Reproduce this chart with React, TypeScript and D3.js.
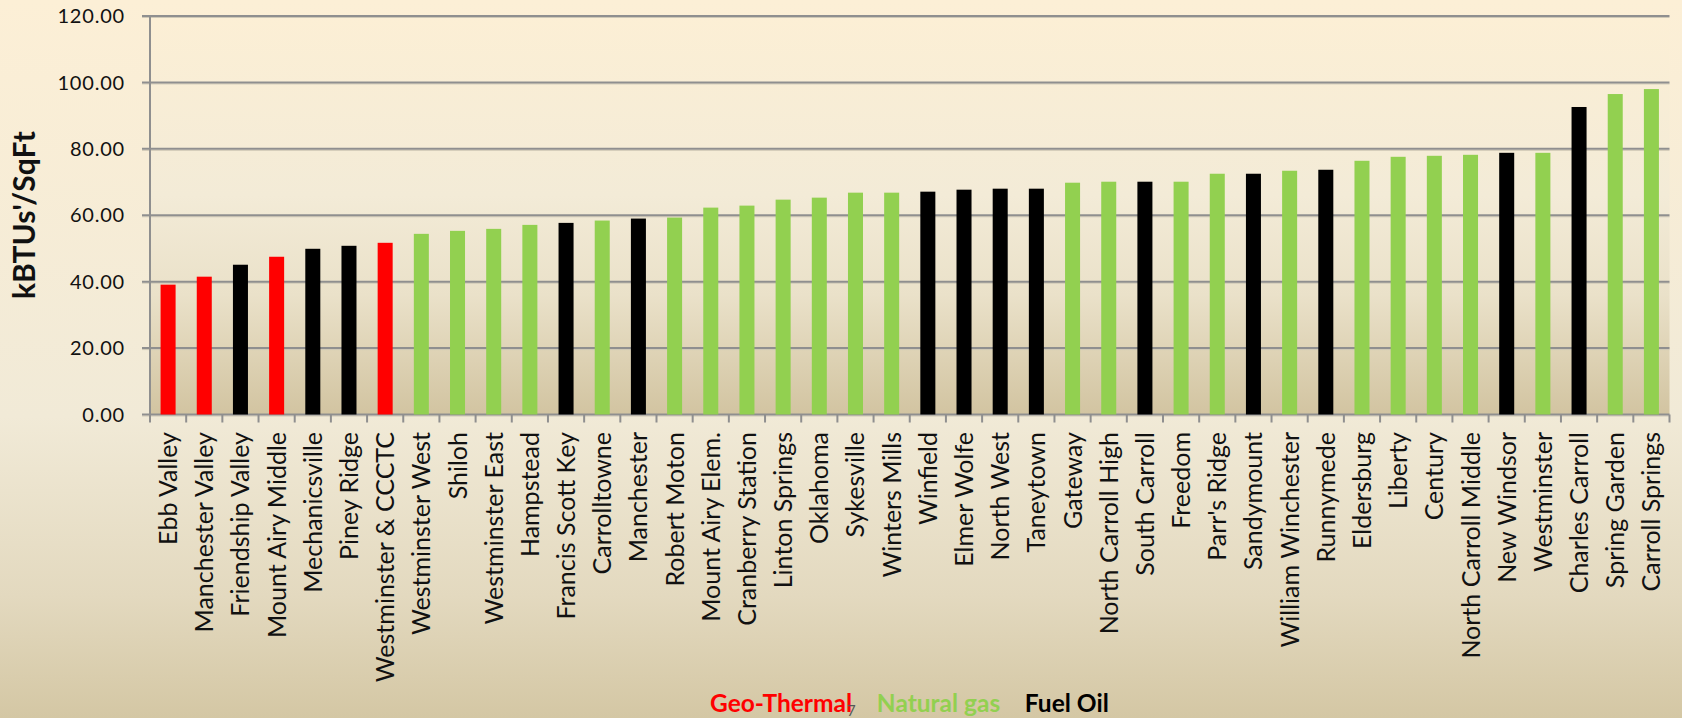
import React from "react";
import * as d3 from "d3";

const schools = [
  "Ebb Valley", "Manchester Valley", "Friendship Valley", "Mount Airy Middle",
  "Mechanicsville", "Piney Ridge", "Westminster & CCCTC", "Westminster West",
  "Shiloh", "Westminster East", "Hampstead", "Francis Scott Key", "Carrolltowne",
  "Manchester", "Robert Moton", "Mount Airy Elem.", "Cranberry Station",
  "Linton Springs", "Oklahoma", "Sykesville", "Winters Mills", "Winfield",
  "Elmer Wolfe", "North West", "Taneytown", "Gateway", "North Carroll High",
  "South Carroll", "Freedom", "Parr's Ridge", "Sandymount", "William Winchester",
  "Runnymede", "Eldersburg", "Liberty", "Century", "North Carroll Middle",
  "New Windsor", "Westminster", "Charles Carroll", "Spring Garden", "Carroll Springs",
];

const kbtuPerSqFt = [
  39.1, 41.5, 45.1, 47.5, 49.9, 50.8, 51.7, 54.4, 55.3, 55.9, 57.1, 57.7, 58.4,
  59.0, 59.3, 62.3, 62.9, 64.7, 65.3, 66.8, 66.8, 67.1, 67.7, 68.0, 68.0, 69.8,
  70.1, 70.1, 70.1, 72.5, 72.5, 73.4, 73.7, 76.4, 77.6, 77.9, 78.2, 78.8, 78.8,
  92.6, 96.5, 98.0,
];

const fuel = [
  "geo", "geo", "oil", "geo", "oil", "oil", "geo", "gas", "gas", "gas", "gas",
  "oil", "gas", "oil", "gas", "gas", "gas", "gas", "gas", "gas", "gas", "oil",
  "oil", "oil", "oil", "gas", "gas", "oil", "gas", "gas", "oil", "gas", "oil",
  "gas", "gas", "gas", "gas", "oil", "gas", "oil", "gas", "gas",
];

const fuelKeys = ["geo", "gas", "oil"];
const fuelNames = ["Geo-Thermal", "Natural gas", "Fuel Oil"];
const fuelColors = ["#FF0000", "#92D050", "#000000"];

const yTicks = [0, 20, 40, 60, 80, 100, 120];

const W = 1682;
const H = 718;
const left = 150;
const right = 1669.5;
const top = 16;
const bottom = 414.5;

export default function App() {
  const x = d3
    .scaleBand<string>()
    .domain(schools)
    .range([left, right])
    .paddingInner(0.585)
    .paddingOuter(0.2925);
  const y = d3.scaleLinear().domain([0, 120]).range([bottom, top]);
  const color = d3.scaleOrdinal<string, string>().domain(fuelKeys).range(fuelColors);
  const step = x.step();
  const font = "Lato, 'Open Sans', sans-serif";

  return (
    <svg
      width={W}
      height={H}
      style={{ position: "absolute", left: 0, top: 0, display: "block" }}
      fontFamily={font}
    >
      <defs>
        <linearGradient id="page" x1="0" y1="0" x2="0" y2="1">
          <stop offset="0" stopColor="#FCEFD6" />
          <stop offset="0.58" stopColor="#F1EAD7" />
          <stop offset="0.83" stopColor="#E3D9BF" />
          <stop offset="1" stopColor="#D4C7A4" />
        </linearGradient>
        <linearGradient id="plot" x1="0" y1="0" x2="0" y2="1">
          <stop offset="0" stopColor="#FCEFD5" />
          <stop offset="0.45" stopColor="#F3EBD7" />
          <stop offset="0.7" stopColor="#EAE1C9" />
          <stop offset="1" stopColor="#D2C4A1" />
        </linearGradient>
      </defs>
      <rect width={W} height={H} fill="url(#page)" />
      <rect x={left} y={top} width={right - left} height={bottom - top} fill="url(#plot)" />

      {/* gridlines + y ticks */}
      {yTicks.map((t) => (
        <g key={t}>
          <line x1={left - 8} x2={right} y1={y(t) + 1.5} y2={y(t) + 1.5} stroke="#CFC8B6" strokeWidth={1} />
          <line x1={left - 8} x2={right} y1={y(t)} y2={y(t)} stroke="#8F8F8F" strokeWidth={2} />
          <text
            x={125}
            y={y(t)}
            dy="0.36em"
            textAnchor="end"
            fontSize={20}
            letterSpacing={0.8}
            fill="#111"
          >
            {t.toFixed(2)}
          </text>
        </g>
      ))}

      {/* bars */}
      {schools.map((s, i) => (
        <rect
          key={s}
          x={x(s)}
          y={y(kbtuPerSqFt[i])}
          width={x.bandwidth()}
          height={y(0) - y(kbtuPerSqFt[i])}
          fill={color(fuel[i])}
        />
      ))}

      {/* axes */}
      <line x1={left} x2={left} y1={top} y2={bottom + 1} stroke="#8F8F8F" strokeWidth={2} />
      {d3.range(schools.length + 1).map((i) => (
        <line
          key={i}
          x1={left + i * step}
          x2={left + i * step}
          y1={bottom}
          y2={bottom + 8}
          stroke="#8F8F8F"
          strokeWidth={2}
        />
      ))}

      {/* category labels */}
      {schools.map((s) => (
        <text
          key={s}
          transform={`translate(${x(s)! + x.bandwidth() / 2},432) rotate(-90)`}
          dy="0.36em"
          textAnchor="end"
          fontSize={25}
          fill="#111"
        >
          {s}
        </text>
      ))}

      {/* y-axis title */}
      <text
        transform="translate(35,215) rotate(-90)"
        textAnchor="middle"
        fontSize={30}
        fontWeight="bold"
        fill="#111"
      >
        kBTUs'/SqFt
      </text>

      {/* legend */}
      <text y={712} fontSize={24.5} fontWeight="bold">
        {fuelNames.map((n, i) => (
          <tspan key={n} x={i === 0 ? 710 : undefined} dx={i === 0 ? 0 : 25} fill={fuelColors[i]}>
            {n}
          </tspan>
        ))}
      </text>
      <text x={847} y={716} fontSize={15} fill="#555">
        7
      </text>
    </svg>
  );
}
